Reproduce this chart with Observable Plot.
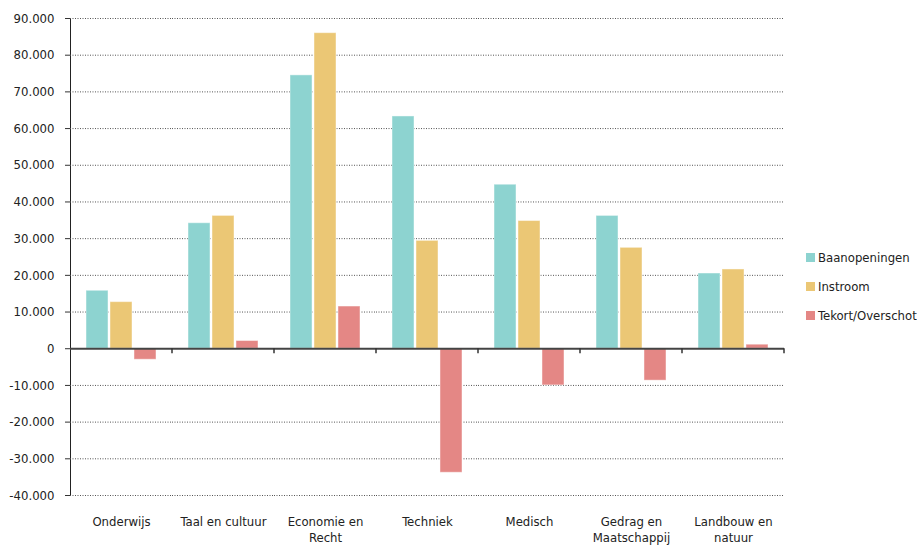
<!DOCTYPE html>
<html>
<head>
<meta charset="utf-8">
<script src="https://cdn.jsdelivr.net/npm/d3@7"></script>
<script src="https://cdn.jsdelivr.net/npm/@observablehq/plot@0.6"></script>
<style>
  body { margin: 0; background: #fff; }
  #wrap { position: relative; width: 917px; height: 545px; font-family: "DejaVu Sans Condensed", "Liberation Sans Narrow", sans-serif; color: #222; }
  #legend { position: absolute; left: 806px; top: 243px; font-size: 13px; line-height: 29px; white-space: nowrap; }
  #legend .sw { display: inline-block; width: 9px; height: 9px; margin-right: 3px; vertical-align: 0px; }
</style>
</head>
<body>
<div id="wrap"></div>
<script>
const categories = ["Onderwijs", "Taal en cultuur", "Economie en Recht", "Techniek", "Medisch", "Gedrag en Maatschappij", "Landbouw en natuur"];
const categoryLabels = ["Onderwijs", "Taal en cultuur", "Economie en\nRecht", "Techniek", "Medisch", "Gedrag en\nMaatschappij", "Landbouw en\nnatuur"];
const series = ["Baanopeningen", "Instroom", "Tekort/Overschot"];
const colors = ["#8dd3d0", "#ebc775", "#e48785"];
const baanopeningen = [15800, 34200, 74500, 63300, 44700, 36200, 20500];
const instroom = [12700, 36200, 86000, 29400, 34800, 27500, 21600];
const tekort = [-3000, 2100, 11500, -33800, -10000, -8700, 1100];
const yTicks = [-40000, -30000, -20000, -10000, 0, 10000, 20000, 30000, 40000, 50000, 60000, 70000, 80000, 90000];

const values = [baanopeningen, instroom, tekort];
const data = [];
categories.forEach((c, i) => series.forEach((s, j) => data.push({category: c, series: s, value: values[j][i]})));

const nl = d3.formatLocale({decimal: ",", thousands: ".", grouping: [3], currency: ["€", ""], minus: "-"});
const fmt = nl.format(",");
const font = `"DejaVu Sans Condensed", "Liberation Sans Narrow", sans-serif`;

const chart = Plot.plot({
  width: 917,
  height: 545,
  marginLeft: 70,
  marginRight: 133,
  marginTop: 18,
  marginBottom: 50,
  style: {fontFamily: font, fontSize: "13px", color: "#222", background: "white"},
  fx: {domain: categories, padding: 0, axis: null, round: false},
  x: {domain: series, paddingInner: 0.083, paddingOuter: 0.667, axis: null, round: false},
  y: {domain: [-40000, 90000], ticks: yTicks, tickFormat: fmt, tickSize: 5, tickPadding: 11, line: true, label: null},
  color: {domain: series, range: colors},
  marks: [
    Plot.ruleY(yTicks.filter(d => d !== 0), {stroke: "#555", strokeDasharray: "1,1.5", strokeWidth: 1}),
    Plot.barY(data, {fx: "category", x: "series", y: "value", fill: "series", stroke: "white", strokeOpacity: 0.45, strokeWidth: 1}),
    Plot.ruleY([0], {stroke: "#444", strokeWidth: 1.8}),
    Plot.text(categories, {fx: d => d, text: (d, i) => categoryLabels[i], frameAnchor: "bottom", lineAnchor: "top", dy: 18, lineHeight: 1.3, fontSize: 13, fill: "#222"})
  ]
});

d3.select(chart).selectAll("[aria-label='y-axis'] path, [aria-label='y-axis tick'] path, [aria-label='y-axis line']").attr("stroke", "#333");

// boundary ticks along the zero line at the end of each group
const fxs = chart.scale("fx");
const ys = chart.scale("y");
const y0 = ys.apply(0);
const g = d3.select(chart).append("g").attr("stroke", "#333").attr("stroke-width", 1.5);
categories.forEach(c => {
  const xr = fxs.apply(c) + fxs.bandwidth;
  g.append("line").attr("x1", xr).attr("x2", xr).attr("y1", y0).attr("y2", y0 + 5);
});

const wrap = document.getElementById("wrap");
wrap.appendChild(chart);
const legend = document.createElement("div");
legend.id = "legend";
legend.innerHTML = series.map((s, i) => `<div><span class="sw" style="background:${colors[i]}"></span>${s}</div>`).join("");
wrap.appendChild(legend);
</script>
</body>
</html>
